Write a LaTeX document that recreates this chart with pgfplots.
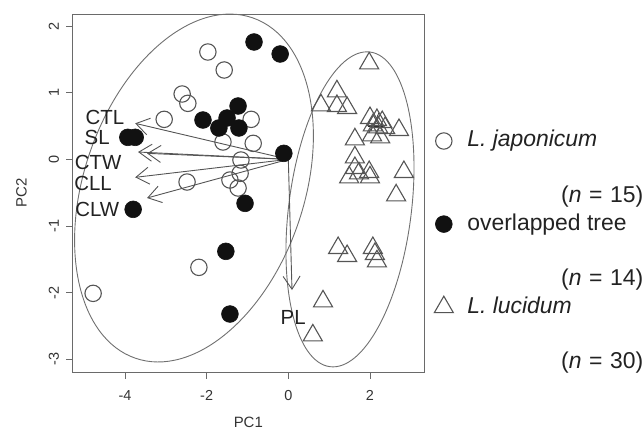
\documentclass[border=0pt]{standalone}
\usepackage{fontspec}
\setmainfont{Liberation Sans}
\usepackage{pgfplots}
\pgfplotsset{compat=1.18}
\usetikzlibrary{arrows.meta}
\definecolor{boxcol}{HTML}{6A6A6A}
\definecolor{ellcol}{HTML}{707070}
\definecolor{opencol}{HTML}{555555}
\definecolor{fillcol}{HTML}{111111}
\definecolor{tricol}{HTML}{555555}
\definecolor{arrcol}{HTML}{555555}
\definecolor{txtcol}{HTML}{222222}
\definecolor{tickcol}{HTML}{333333}
\begin{document}
\begin{tikzpicture}
\begin{axis}[
  scale only axis, width=352bp, height=358.7bp,
  xmin=-5.29, xmax=3.33, ymin=-3.20, ymax=2.18,
  axis line style={draw=boxcol, line width=0.8bp},
  xtick={-4,-2,0,2}, ytick={-3,-2,-1,0,1,2},
  xtick pos=bottom, ytick pos=left,
  tick align=outside, major tick length=6bp,
  every tick/.style={draw=boxcol, line width=0.8bp},
  /pgf/number format/assume math mode=true,
  xticklabel style={font=\fontsize{14.5}{14.5}\selectfont, text=tickcol, inner sep=0pt, anchor=base, yshift=-22bp},
  yticklabel style={font=\fontsize{14.5}{14.5}\selectfont, text=tickcol, inner sep=0pt, xshift=-7.5bp, rotate=90, anchor=base},
  legend style={at={(1,1)}, anchor=north west, xshift=10bp, yshift=-116bp,
    draw=none, fill=none, inner sep=0pt, outer sep=0pt,
    row sep=5.7bp, column sep=14bp,
    nodes={inner sep=0pt, outer sep=0pt, text height=17bp, text depth=5bp,
      font=\fontsize{23}{23}\selectfont, text=txtcol}},
  legend cell align=left,
  legend image code/.code={\draw[#1] plot coordinates {(0bp,0bp)};},
]
\coordinate (SW) at (rel axis cs:0,0);
\coordinate (NE) at (rel axis cs:1,1);

% ellipses
\draw[ellcol, line width=0.9bp, rotate around={71:(axis cs:-2.31,-0.43)}]
  (axis cs:-2.31,-0.43) ellipse [x radius=180bp, y radius=110bp];
\draw[ellcol, line width=0.9bp, rotate around={82.75:(axis cs:1.51,-0.75)}]
  (axis cs:1.51,-0.75) ellipse [x radius=158.6bp, y radius=61.3bp];

% L. japonicum (open circles)
\addplot[only marks, mark=o, mark size=8.2bp, mark options={draw=opencol, line width=1.1bp}]
coordinates {
(-1.97,1.61) (-1.57,1.34) (-2.60,0.98) (-2.46,0.84) (-3.04,0.60)
(-0.91,0.60) (-1.60,0.26) (-0.86,0.24) (-1.16,-0.01) (-1.18,-0.21)
(-1.43,-0.31) (-1.23,-0.43) (-2.48,-0.34) (-2.19,-1.62) (-4.78,-2.01)
};
\addlegendentry{\textit{L. japonicum}}
\addlegendimage{empty legend}\addlegendentry{}
\addlegendimage{empty legend}\addlegendentry[text width=176bp, align=right]{(\textit{n} = 15)}

% overlapped tree (filled circles)
\addplot[only marks, mark=*, mark size=8.4bp, mark options={draw=fillcol, fill=fillcol, line width=0.6bp}]
coordinates {
(-0.84,1.76) (-0.20,1.58) (-1.23,0.80) (-2.09,0.59) (-1.50,0.62)
(-1.70,0.47) (-1.21,0.47) (-0.11,0.09) (-3.93,0.33) (-3.75,0.33)
(-3.80,-0.75) (-1.06,-0.66) (-1.53,-1.38) (-1.43,-2.32)
};
\addlegendentry{overlapped tree}
\addlegendimage{empty legend}\addlegendentry{}
\addlegendimage{empty legend}\addlegendentry[text width=176bp, align=right]{(\textit{n} = 14)}

% L. lucidum (triangles)
\addplot[only marks, mark=triangle, mark size=11bp, mark options={draw=tricol, line width=1.1bp}]
coordinates {
(1.98,1.44) (1.19,1.02) (0.80,0.81) (1.19,0.80) (1.44,0.77)
(2.00,0.62) (2.17,0.59) (2.30,0.56) (2.07,0.51) (2.20,0.48)
(2.37,0.47) (2.71,0.44) (1.63,0.30) (2.05,0.36) (2.25,0.33)
(1.63,0.03) (1.63,-0.13) (1.49,-0.27) (1.73,-0.21) (1.98,-0.19)
(2.00,-0.27) (2.83,-0.19) (2.64,-0.54) (1.22,-1.33) (1.44,-1.45)
(2.07,-1.33) (2.12,-1.42) (2.17,-1.53) (0.85,-2.13) (0.60,-2.64)
};
\addlegendentry{\textit{L. lucidum}}
\addlegendimage{empty legend}\addlegendentry{}
\addlegendimage{empty legend}\addlegendentry[text width=176bp, align=right]{(\textit{n} = 30)}

% loading arrows
\pgfplotsset{arr/.style={forget plot, arrcol, line width=0.9bp, -{Straight Barb[length=13bp, width=17bp]}}}
\addplot[arr] coordinates {(0,0) (-3.75,0.54)};
\addplot[arr] coordinates {(0,0) (-3.68,0.11)};
\addplot[arr] coordinates {(0,0) (-3.46,0.09)};
\addplot[arr] coordinates {(0,0) (-3.75,-0.27)};
\addplot[arr] coordinates {(0,0) (-3.46,-0.58)};
\addplot[arr] coordinates {(0,0) (0.09,-1.96)};
\addplot[forget plot, black!85, line width=0.8bp, -{Straight Barb[length=3bp, width=4bp]}] coordinates {(1.95,0.50) (2.35,0.50)};
\addplot[forget plot, black!85, line width=0.7bp] coordinates {(2.02,0.42) (2.22,0.70)};

% loading labels
\node[font=\fontsize{20.5}{20.5}\selectfont, text=txtcol] at (axis cs:-4.49,0.63) {CTL};
\node[font=\fontsize{20.5}{20.5}\selectfont, text=txtcol] at (axis cs:-4.68,0.33) {SL};
\node[font=\fontsize{20.5}{20.5}\selectfont, text=txtcol] at (axis cs:-4.66,-0.04) {CTW};
\node[font=\fontsize{20.5}{20.5}\selectfont, text=txtcol] at (axis cs:-4.78,-0.36) {CLL};
\node[font=\fontsize{20.5}{20.5}\selectfont, text=txtcol] at (axis cs:-4.68,-0.75) {CLW};
\node[font=\fontsize{20.5}{20.5}\selectfont, text=txtcol] at (axis cs:0.12,-2.37) {PL};
\end{axis}
\node[anchor=base, inner sep=0pt, font=\fontsize{15}{15}\selectfont, text=tickcol] at ([shift={(176bp,-54.3bp)}]SW) {PC1};
\node[anchor=base, inner sep=0pt, rotate=90, font=\fontsize{15}{15}\selectfont, text=tickcol] at ([shift={(-45.6bp,180bp)}]SW) {PC2};
\pgfresetboundingbox
\path ([shift={(-72.3bp,-56.3bp)}]SW) rectangle ++(644bp,429bp);
\end{tikzpicture}
\end{document}
